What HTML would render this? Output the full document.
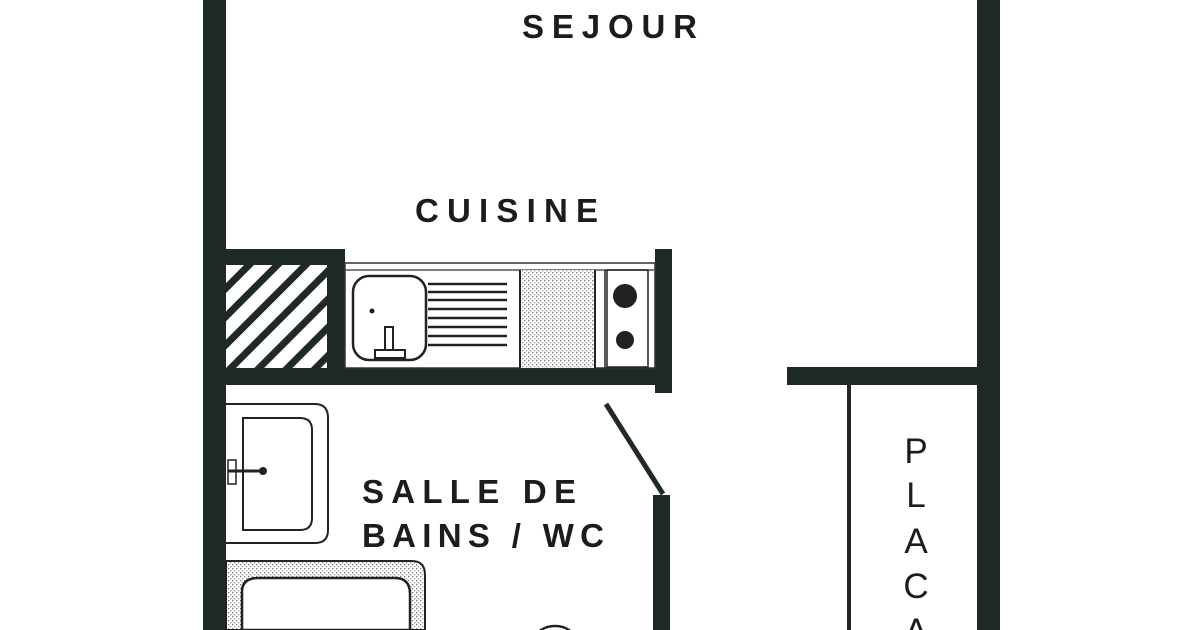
<!DOCTYPE html>
<html><head><meta charset="utf-8"><style>
html,body{margin:0;padding:0;background:#fff;}
svg{display:block}
text{font-family:"Liberation Sans",sans-serif;fill:#1b1d1c}
</style></head><body>
<svg width="1200" height="630" viewBox="0 0 1200 630" xmlns="http://www.w3.org/2000/svg">
<defs>
<pattern id="hatch" width="20" height="20" patternUnits="userSpaceOnUse" patternTransform="rotate(45)">
<rect width="20" height="20" fill="#fff"/><rect width="7" height="20" fill="#1f2a27"/>
</pattern>
<pattern id="dots" width="4" height="4" patternUnits="userSpaceOnUse">
<rect width="4" height="4" fill="#fff"/><rect width="1.3" height="1.3" fill="#777"/><rect x="2" y="2" width="1.3" height="1.3" fill="#999"/>
</pattern>
<clipPath id="hc"><rect x="226" y="265" width="101" height="103"/></clipPath>
</defs>
<g fill="#1f2a27">
<rect x="203" y="0" width="23" height="630"/>
<rect x="977" y="0" width="23" height="630"/>
<rect x="787" y="367" width="213" height="18"/>
<rect x="847" y="385" width="4" height="245"/>
<rect x="226" y="249" width="119" height="16"/>
<rect x="327" y="249" width="18" height="136"/>
<rect x="203" y="368" width="469" height="17"/>
<rect x="655" y="249" width="17" height="144"/>
<rect x="653" y="495" width="17" height="135"/>
</g>
<rect x="226" y="265" width="101" height="103" fill="url(#hatch)" clip-path="url(#hc)"/>
<rect x="345" y="263" width="310" height="105" fill="#fff" stroke="#333" stroke-width="1.5"/>
<line x1="345" y1="270" x2="655" y2="270" stroke="#555" stroke-width="1.5"/>
<rect x="521" y="270" width="74" height="98" fill="url(#dots)"/>
<line x1="520" y1="270" x2="520" y2="368" stroke="#222" stroke-width="2"/>
<line x1="595" y1="270" x2="595" y2="368" stroke="#222" stroke-width="2"/>
<line x1="605" y1="270" x2="605" y2="368" stroke="#222" stroke-width="1.5"/>
<rect x="607" y="270" width="41" height="97" fill="none" stroke="#222" stroke-width="1.5"/>
<circle cx="625" cy="296" r="12" fill="#222"/>
<circle cx="625" cy="340" r="9" fill="#222"/>
<rect x="353" y="276" width="73" height="84" rx="16" fill="#fff" stroke="#222" stroke-width="2.5"/>
<rect x="385" y="327" width="8" height="30" fill="#fff" stroke="#222" stroke-width="2"/>
<rect x="375" y="350" width="30" height="8" fill="#fff" stroke="#222" stroke-width="2"/>
<circle cx="372" cy="311" r="2.5" fill="#222"/>
<g stroke="#222" stroke-width="2.5">
<line x1="428" y1="284" x2="507" y2="284"/><line x1="428" y1="292" x2="507" y2="292"/>
<line x1="428" y1="300" x2="507" y2="300"/><line x1="428" y1="309" x2="507" y2="309"/>
<line x1="428" y1="318" x2="507" y2="318"/><line x1="428" y1="327" x2="507" y2="327"/>
<line x1="428" y1="336" x2="507" y2="336"/><line x1="428" y1="345" x2="507" y2="345"/>
</g>
<path d="M226 404 H315 Q328 404 328 418 V530 Q328 543 315 543 H226" fill="#fff" stroke="#222" stroke-width="2"/>
<path d="M243 418 H300 Q312 418 312 430 V518 Q312 530 300 530 H243 Z" fill="#fff" stroke="#222" stroke-width="2"/>
<rect x="228" y="460" width="8" height="24" fill="#fff" stroke="#222" stroke-width="1.5"/>
<line x1="228" y1="471" x2="262" y2="471" stroke="#222" stroke-width="3"/>
<circle cx="263" cy="471" r="4" fill="#222"/>
<path d="M226 561 H412 Q425 561 425 575 V630 H226 Z" fill="url(#dots)" stroke="#222" stroke-width="2"/>
<path d="M242 630 V592 Q242 578 258 578 H395 Q410 578 410 594 V630 Z" fill="#fff" stroke="#222" stroke-width="2.5"/>
<ellipse cx="555" cy="640" rx="20" ry="14" fill="#fff" stroke="#222" stroke-width="2.5"/>
<line x1="606" y1="404" x2="663" y2="494" stroke="#1f2a27" stroke-width="5"/>
<g font-weight="bold" font-size="33">
<text x="522" y="38" textLength="175" lengthAdjust="spacing">SEJOUR</text>
<text x="415" y="222" textLength="183" lengthAdjust="spacing">CUISINE</text>
<text x="362" y="503" textLength="214" lengthAdjust="spacing">SALLE DE</text>
<text x="362" y="547" textLength="242" lengthAdjust="spacing">BAINS / WC</text>
</g>
<g font-size="35" text-anchor="middle">
<text x="916" y="463">P</text>
<text x="916" y="507">L</text>
<text x="916" y="553">A</text>
<text x="916" y="598">C</text>
<text x="916" y="643">A</text>
</g>
</svg>
</body></html>
